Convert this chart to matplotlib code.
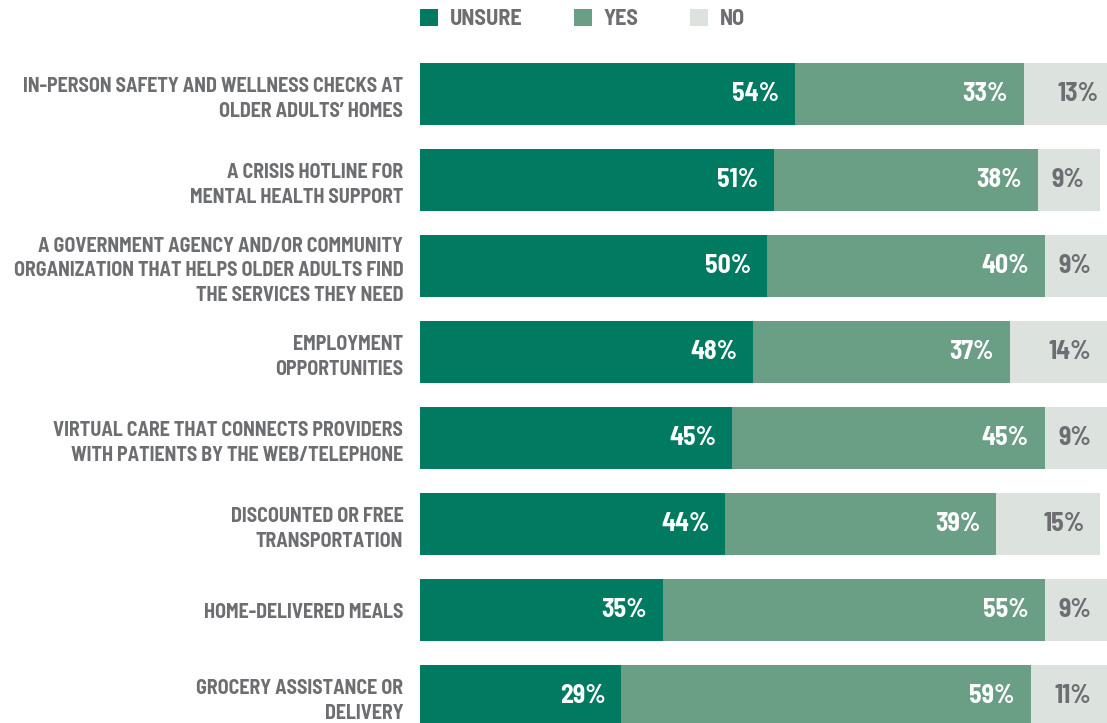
import matplotlib.pyplot as plt
from matplotlib.patches import Patch
import numpy as np

# Data
categories = [
    "IN-PERSON SAFETY AND WELLNESS CHECKS AT\nOLDER ADULTS\u2019 HOMES",
    "A CRISIS HOTLINE FOR\nMENTAL HEALTH SUPPORT",
    "A GOVERNMENT AGENCY AND/OR COMMUNITY\nORGANIZATION THAT HELPS OLDER ADULTS FIND\nTHE SERVICES THEY NEED",
    "EMPLOYMENT\nOPPORTUNITIES",
    "VIRTUAL CARE THAT CONNECTS PROVIDERS\nWITH PATIENTS BY THE WEB/TELEPHONE",
    "DISCOUNTED OR FREE\nTRANSPORTATION",
    "HOME-DELIVERED MEALS",
    "GROCERY ASSISTANCE OR\nDELIVERY",
]
series_names = ["UNSURE", "YES", "NO"]
unsure = [54, 51, 50, 48, 45, 44, 35, 29]
yes = [33, 38, 40, 37, 45, 39, 55, 59]
no = [13, 9, 9, 14, 9, 15, 9, 11]

colors = ["#007a60", "#6b9f85", "#dce2de"]
label_colors = ["white", "white", "#6d6e71"]
gray = "#6d6e71"

plt.rcParams['font.family'] = ['Barlow Semi Condensed', 'Liberation Sans Narrow', 'DejaVu Sans']

W, H = 1107, 723
fig = plt.figure(figsize=(W / 100, H / 100), dpi=100)
ax = fig.add_axes([420 / W, 0, 687 / W, 1])

y = np.arange(len(categories))
left = np.zeros(len(categories))
for vals, col, lc in zip([unsure, yes, no], colors, label_colors):
    vals = np.array(vals)
    ax.barh(y, vals, left=left, height=0.72, color=col, edgecolor='none')
    for yi, l, v in zip(y, left, vals):
        ax.annotate(f"{v}%", xy=(l + v, yi), xytext=(-11.5, 0), textcoords='offset points',
                    ha='right', va='center', color=lc, fontsize=18.5, fontweight='bold',
                    annotation_clip=False)
    left = left + vals

# px scale: 6.94 px per percent, row spacing 86 px, first row center at 94 px
ax.set_xlim(0, 687 / 6.94)
ax.set_ylim((H - 94) / 86, -94 / 86)

ax.set_yticks(y)
ax.set_yticklabels(categories, fontsize=14.4, fontweight='bold', color=gray, linespacing=1.38)
for t in ax.get_yticklabels():
    t.set_y(t.get_position()[1])
ax.tick_params(axis='y', length=0, pad=12)
ax.tick_params(axis='x', bottom=False, labelbottom=False)
for s in ax.spines.values():
    s.set_visible(False)

handles = [Patch(facecolor=c, edgecolor='none') for c in colors]
fig.legend(handles, series_names, loc='center left', bbox_to_anchor=(400 / W, 1 - 19 / H),
           ncol=3, frameon=False, handlelength=0.8, handleheight=0.8,
           handletextpad=0.55, columnspacing=2.3, labelcolor=gray,
           prop={'weight': 'bold', 'size': 16})

fig.savefig("out.png", dpi=100)
